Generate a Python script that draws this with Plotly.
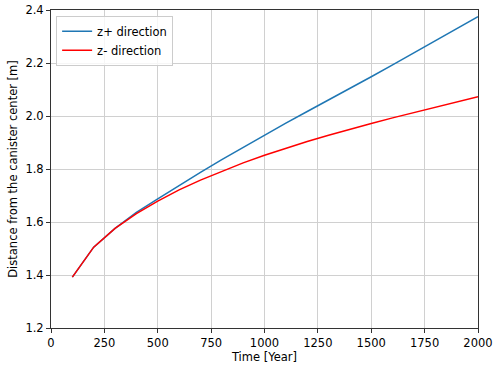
import plotly.graph_objects as go

# Time in years
years = [100, 200, 300, 400, 500, 600, 700, 800, 900, 1000,
         1100, 1200, 1300, 1400, 1500, 1600, 1700, 1800, 1900, 2000]

# distance from canister center [m]
z_plus = [1.392, 1.505, 1.576, 1.636, 1.687, 1.738, 1.787, 1.835, 1.882, 1.929,
          1.973, 2.017, 2.060, 2.104, 2.148, 2.193, 2.239, 2.285, 2.330, 2.375]
z_minus = [1.392, 1.505, 1.576, 1.632, 1.679, 1.721, 1.758, 1.792, 1.823, 1.852,
           1.879, 1.904, 1.927, 1.950, 1.972, 1.993, 2.013, 2.033, 2.053, 2.073]

x_ticks = [0, 250, 500, 750, 1000, 1250, 1500, 1750, 2000]
y_ticks = [1.2, 1.4, 1.6, 1.8, 2.0, 2.2, 2.4]

fig = go.Figure()
fig.add_trace(go.Scatter(x=years, y=z_plus, mode='lines', name='z+ direction',
                         line=dict(color='#1f77b4', width=1.5)))
fig.add_trace(go.Scatter(x=years, y=z_minus, mode='lines', name='z- direction',
                         line=dict(color='red', width=1.5)))

axis_style = dict(
    showline=True, linecolor='#333333', linewidth=1, mirror=True,
    ticks='outside', ticklen=4, tickcolor='#333333',
    showgrid=True, gridcolor='#d0d0d0', gridwidth=1,
    zeroline=False, automargin=False,
    tickfont=dict(size=11.5, color='black'),
)

fig.update_xaxes(range=[0, 2000], tickvals=x_ticks,
                 ticktext=[str(t) for t in x_ticks],
                 title=dict(text='Time [Year]', font=dict(size=11.5, color='black'), standoff=2),
                 **axis_style)
fig.update_yaxes(range=[1.2, 2.4], tickvals=y_ticks,
                 ticktext=['%.1f' % t for t in y_ticks],
                 title=dict(text='Distance from the canister center [m]',
                            font=dict(size=11.5, color='black'), standoff=5),
                 **axis_style)

fig.update_layout(
    width=500, height=369,
    margin=dict(l=51, r=22, t=10, b=41),
    plot_bgcolor='white', paper_bgcolor='white',
    font=dict(family='DejaVu Sans', size=11.5, color='black'),
    legend=dict(x=0.012, y=0.982, xanchor='left', yanchor='top',
                bgcolor='rgba(255,255,255,0.8)', bordercolor='#cccccc', borderwidth=1,
                itemwidth=30, tracegroupgap=0,
                font=dict(size=11.5)),
)

# drop the browser's default 8px body margin so the figure sits at 0,0
fig.write_html("out.html", config={'displayModeBar': False},
               post_script="document.body.style.margin='0';")
